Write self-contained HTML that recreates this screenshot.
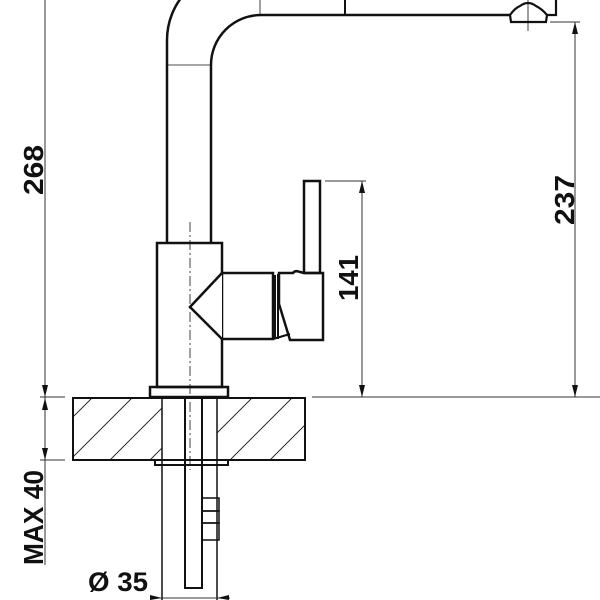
<!DOCTYPE html>
<html><head><meta charset="utf-8"><style>
html,body{margin:0;padding:0;background:#fff;width:600px;height:600px;overflow:hidden}
svg{display:block}
text{font-family:"Liberation Sans",sans-serif;font-weight:bold;fill:#111}
</style></head><body>
<svg width="600" height="600" viewBox="0 0 600 600" xmlns="http://www.w3.org/2000/svg">
<defs>
<clipPath id="cl"><rect x="73" y="398" width="89" height="62"/><rect x="217" y="398" width="88" height="62"/></clipPath>
</defs>
<g fill="none" stroke="#111">
<path d="M167 243 V40 A70 70 0 0 1 237 -30 H560" stroke-width="2.5"/>
<path d="M211 243 V65 A50 50 0 0 1 261 15 H510" stroke-width="2.5"/>
<line x1="167" y1="65" x2="211" y2="65" stroke-width="0.8"/>
<line x1="260" y1="0" x2="260" y2="15" stroke-width="0.8"/>
<line x1="345" y1="0" x2="345" y2="15" stroke-width="2"/>
<path d="M510 15 Q515 8 520 6 Q528 0 536 6 Q542 9 547 15 L546 22 H511 Z" stroke-width="2.2"/>
<path d="M547 15 H556 V0" stroke-width="2.2"/>
<line x1="528" y1="0" x2="528" y2="31" stroke-width="0.8"/>
<rect x="157" y="243" width="65" height="144" stroke-width="2.5"/>
<rect x="150" y="387" width="78" height="10" stroke-width="2.5"/>
<path d="M222 273 L190 307 L222 339" stroke-width="2.5" fill="#fff"/>
<path d="M222 273 H273 V339 H222" stroke-width="2.5"/>
<path d="M275 275 V339 M278 274 V339" stroke-width="2"/>
<path d="M279 273 H293 Q295 270 300 272 Q304 273 306 273 H323 V340 H290 L279 304 Z" stroke-width="2.5"/>
<path d="M273 339 L290 334" stroke-width="2"/>
<rect x="304" y="181" width="16" height="92" stroke-width="2.5"/>
<line x1="190" y1="222" x2="190" y2="470" stroke-width="0.8" stroke-dasharray="10 3 2 3"/>
<rect x="73" y="398" width="232" height="62" stroke-width="2"/>
<g clip-path="url(#cl)" stroke-width="0.9">
<path d="M60 470 L140 390 M100 470 L180 390 M140 470 L220 390 M180 470 L260 390 M220 470 L300 390 M260 470 L340 390 M300 470 L380 390 M20 470 L100 390"/>
</g>
<rect x="155" y="460" width="73" height="5" stroke-width="2"/>
<path d="M162 398 V600 M217 398 V600" stroke-width="1.5"/>
<path d="M185 398 V588 H202 V398" stroke-width="2"/>
<rect x="202" y="498" width="17" height="13" stroke-width="1.5"/>
<rect x="202" y="511" width="17" height="12" stroke-width="1.5"/>
<rect x="202" y="523" width="17" height="17" stroke-width="1.5"/>
<g stroke-width="1" stroke="#333">
<line x1="45" y1="0" x2="45" y2="565"/>
<line x1="40" y1="397" x2="65" y2="397"/>
<line x1="40" y1="460" x2="65" y2="460"/>
<line x1="312" y1="397" x2="600" y2="397"/>
<line x1="550" y1="22" x2="580" y2="22"/>
<line x1="575" y1="22" x2="575" y2="397"/>
<line x1="325" y1="181" x2="366" y2="181"/>
<line x1="362" y1="181" x2="362" y2="397"/>
<line x1="150" y1="598" x2="230" y2="598"/>
</g>
</g>
<g fill="#111">
<path d="M42 385 L48 385 L45 397 Z"/>
<path d="M42 410 L48 410 L45 398 Z"/>
<path d="M42 448 L48 448 L45 460 Z"/>
<path d="M572 34 L578 34 L575 22 Z"/>
<path d="M572 385 L578 385 L575 397 Z"/>
<path d="M359 193 L365 193 L362 181 Z"/>
<path d="M359 385 L365 385 L362 397 Z"/>
<path d="M150 595 L162 598 L150 600 Z"/>
<path d="M229 595 L217 598 L229 600 Z"/>
</g>
<text transform="translate(43 195) rotate(-90)" font-size="28" textLength="50" lengthAdjust="spacingAndGlyphs">268</text>
<text transform="translate(574 225) rotate(-90)" font-size="28" textLength="50" lengthAdjust="spacingAndGlyphs">237</text>
<text transform="translate(358 301) rotate(-90)" font-size="28" textLength="46" lengthAdjust="spacingAndGlyphs">141</text>
<text transform="translate(43 565) rotate(-90)" font-size="28" textLength="95" lengthAdjust="spacingAndGlyphs">MAX 40</text>
<text x="88" y="591" font-size="27" textLength="60" lengthAdjust="spacingAndGlyphs">Ø 35</text>
</svg>
</body></html>
